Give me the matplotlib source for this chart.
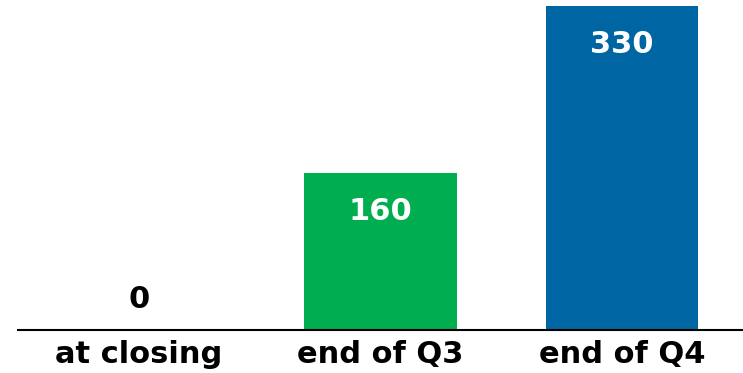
import matplotlib.pyplot as plt

categorias = ["at closing", "end of Q3", "end of Q4"]
valores = [0, 160, 330]
cores = ["#00AE4F", "#00AE4F", "#0066A3"]

fig = plt.figure(figsize=(7.43, 3.73), dpi=100)
ax = fig.add_axes([18 / 743, 43 / 373, 725 / 743, 330 / 373])

x = range(len(categorias))
barras = ax.bar(x, valores, width=0.63, color=cores)

ax.set_xlim(-0.5, 2.5)
ax.set_ylim(0, 336)

for b, v in zip(barras, valores):
    cx = b.get_x() + b.get_width() / 2
    if v == 0:
        ax.annotate(str(v), (cx, v), xytext=(0, 22), textcoords="offset points",
                    ha="center", va="center", fontsize=22, fontweight="bold", color="black")
    else:
        ax.annotate(str(v), (cx, v), xytext=(0, -28), textcoords="offset points",
                    ha="center", va="center", fontsize=22, fontweight="bold", color="white")

ax.set_xticks(list(x))
ax.set_xticklabels(categorias, fontsize=22, fontweight="bold")
ax.tick_params(axis="x", length=0, pad=7)
ax.set_yticks([])
for lado in ["top", "right", "left"]:
    ax.spines[lado].set_visible(False)
ax.spines["bottom"].set_linewidth(1.5)

fig.savefig("out.png", dpi=100)
